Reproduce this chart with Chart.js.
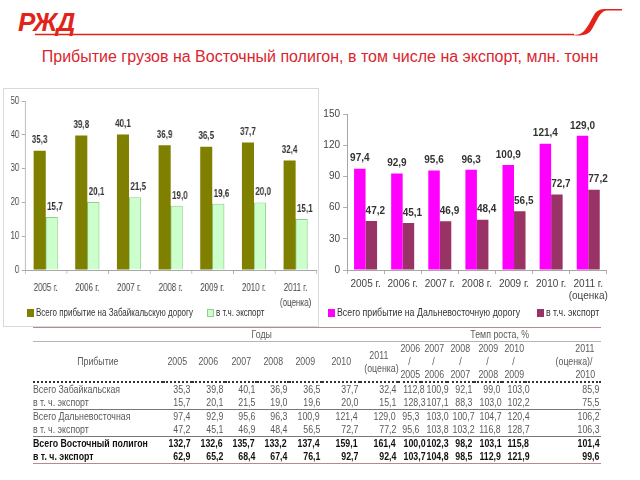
<!DOCTYPE html>
<html>
<head>
<meta charset="utf-8">
<script src="https://cdn.jsdelivr.net/npm/chart.js@4/dist/chart.umd.min.js"></script>
<style>
    body { margin: 0; width: 640px; height: 480px; background: #fff; position: relative; overflow: hidden; font-family: "Liberation Sans", Arial, sans-serif; }
    #logo { position: absolute; left: 18px; top: 7px; font: italic bold 26px "Liberation Sans", Arial, sans-serif; color: #e2231a; letter-spacing: -1px; }
    #rule { position: absolute; left: 0; top: 0; }
    #title { position: absolute; left: 0; width: 640px; top: 48px; text-align: center; font-size: 16px; color: #d9262e; }
    #box-zab { position: absolute; left: 3px; top: 88px; width: 316px; height: 239px; border: 1px solid #d9d9d9; box-sizing: border-box; }
    #box-dv { position: absolute; left: 320px; top: 85px; width: 292px; height: 242px; }
    .legend { position: absolute; top: 307px; height: 12px; font-size: 10px; color: #333; white-space: nowrap; }
    .legend .item { position: absolute; top: 0; }
    .legend i { position: absolute; left: 0; top: 2px; width: 7px; height: 8px; box-sizing: border-box; }
    .legend span { position: absolute; top: 0; line-height: 12px; display: inline-block; transform-origin: left center; }
    #tbl { position: absolute; left: 33px; top: 327px; width: 568px; border-collapse: collapse; table-layout: fixed;
           font: 11px "Liberation Sans", Arial, sans-serif; color: #5a5a5a; }
    #tbl td { padding: 0; white-space: nowrap; line-height: 13px; vertical-align: middle; overflow: visible; }
    #tbl td span { display: inline-block; transform: scaleX(0.8); }
    #tbl .num { text-align: right; padding-right: 2px; }
    #tbl .num span { transform-origin: right center; }
    #tbl .name span { transform-origin: left center; }
    #tbl .head { text-align: center; }
    #tbl tr.top td { border-top: 1px solid #b88a8a; border-bottom: 1px solid #b5b5b5; height: 12px; }
    #tbl tr.hdr td { border-bottom: 2px dotted #333; height: 39px; }
    #tbl tr.row td { height: 13px; }
    #tbl tr.under td { border-bottom: 1px solid #777; }
    #tbl tr.bold td { font-weight: bold; color: #111; }
    #tbl tr.last td { border-bottom: 1px solid #b88a8a; }
</style>
</head>
<body>
<div id="logo">РЖД</div>
<svg id="rule" width="640" height="45">
    <line x1="35" y1="34.5" x2="574" y2="34.5" stroke="#e2231a" stroke-width="1.3"/>
    <path d="M572 35 C582 35 584 32 589 24 L594 15 C597 10 600 9 607 9 L622 9 L622 10.5 L608 10.5 C603 10.5 601 13 598 18 L592 29 C589 34 585 35.5 576 35.5 Z" fill="#e2231a"/>
</svg>
<div id="title">Прибытие грузов на Восточный полигон, в том числе на экспорт, млн. тонн</div>
<div id="box-zab"><canvas id="chart-zab" width="392" height="237" style="width:314px;height:237px"></canvas></div>
<div id="box-dv"><canvas id="chart-dv" width="292" height="242" style="width:292px;height:242px"></canvas></div>
<div class="legend" id="legend-zab"></div>
<div class="legend" id="legend-dv"></div>
<table id="tbl"></table>
<script>
const years = ['2005 г.', '2006 г.', '2007 г.', '2008 г.', '2009 г.', '2010 г.', ['2011 г.', '(оценка)']];
const zabNames = ['Всего прибытие на Забайкальскую дорогу', 'в т.ч. экспорт'];
const zabTotal = [35.3, 39.8, 40.1, 36.9, 36.5, 37.7, 32.4];
const zabExport = [15.7, 20.1, 21.5, 19.0, 19.6, 20.0, 15.1];
const dvNames = ['Всего прибытие на Дальневосточную дорогу', 'в т.ч. экспорт'];
const dvTotal = [97.4, 92.9, 95.6, 96.3, 100.9, 121.4, 129.0];
const dvExport = [47.2, 45.1, 46.9, 48.4, 56.5, 72.7, 77.2];

// table
const tableYears = [['2005'], ['2006'], ['2007'], ['2008'], ['2009'], ['2010'], ['2011', '(оценка)']];
const growthHeads = [['2006', '/', '2005'], ['2007', '/', '2006'], ['2008', '/', '2007'], ['2009', '/', '2008'], ['2010', '/', '2009'], ['2011', '(оценка)/', '2010']];
const rowNames = ['Всего Забайкальская', 'в т. ч. экспорт', 'Всего Дальневосточная', 'в т. ч. экспорт', 'Всего Восточный полигон', 'в т. ч. экспорт'];
const rowValues = [
    [35.3, 39.8, 40.1, 36.9, 36.5, 37.7, 32.4],
    [15.7, 20.1, 21.5, 19.0, 19.6, 20.0, 15.1],
    [97.4, 92.9, 95.6, 96.3, 100.9, 121.4, 129.0],
    [47.2, 45.1, 46.9, 48.4, 56.5, 72.7, 77.2],
    [132.7, 132.6, 135.7, 133.2, 137.4, 159.1, 161.4],
    [62.9, 65.2, 68.4, 67.4, 76.1, 92.7, 92.4],
];
const rowGrowth = [
    [112.8, 100.9, 92.1, 99.0, 103.0, 85.9],
    [128.3, 107.1, 88.3, 103.0, 102.2, 75.5],
    [95.3, 103.0, 100.7, 104.7, 120.4, 106.2],
    [95.6, 103.8, 103.2, 116.8, 128.7, 106.3],
    [100.0, 102.3, 98.2, 103.1, 115.8, 101.4],
    [103.7, 104.8, 98.5, 112.9, 121.9, 99.6],
];
const colWidths = [130, 29, 33, 32, 32, 33, 38, 38, 23, 26, 27, 28, 23, 76];

const fmt = v => v.toFixed(1).replace('.', ',');

// draws the value above every bar
const valueLabels = {
    id: 'valueLabels',
    afterDatasetsDraw(chart, args, opts) {
        const ctx = chart.ctx;
        ctx.save();
        ctx.font = opts.font;
        ctx.fillStyle = opts.color;
        ctx.textAlign = 'center';
        ctx.textBaseline = 'middle';
        chart.data.datasets.forEach((ds, i) => {
            chart.getDatasetMeta(i).data.forEach((bar, j) => {
                ctx.fillText(fmt(ds.data[j]), bar.x + (opts.shift[i] || 0), bar.y - opts.gap);
            });
        });
        ctx.restore();
    }
};

function makeChart(id, cfg) {
    return new Chart(document.getElementById(id), {
        type: 'bar',
        data: {
            labels: years,
            datasets: cfg.names.map((name, i) => ({
                label: name, data: cfg.series[i],
                backgroundColor: cfg.colors[i], borderColor: cfg.borders[i], borderWidth: cfg.borderWidths[i],
            })),
        },
        options: {
            responsive: false,
            animation: false,
            devicePixelRatio: 1,
            categoryPercentage: cfg.catPct,
            barPercentage: 1,
            layout: { padding: cfg.padding },
            plugins: {
                legend: { display: false },
                tooltip: { enabled: false },
                valueLabels: { font: cfg.valueFont, color: '#333', gap: 10, shift: [0, 4] },
            },
            scales: {
                x: {
                    grid: { drawOnChartArea: false, tickLength: 4, color: '#b0b0b0' },
                    border: { color: '#a6a6a6' },
                    ticks: { color: '#444', font: { family: '"Liberation Sans", Arial', size: 10, lineHeight: cfg.xLine }, maxRotation: 0, autoSkip: false, padding: cfg.xPad },
                    afterFit: s => { s.height = cfg.xHeight; },
                },
                y: {
                    min: 0, max: cfg.max,
                    grid: { drawOnChartArea: false, tickLength: 4, color: '#b0b0b0' },
                    border: { color: '#a6a6a6' },
                    ticks: { stepSize: cfg.step, color: '#444', font: { family: '"Liberation Sans", Arial', size: 10 }, padding: 3 },
                    afterFit: s => { s.width = cfg.yWidth; },
                },
            },
        },
        plugins: [valueLabels],
    });
}

function makeLegend(id, cfg) {
    const el = document.getElementById(id);
    el.style.left = cfg.left + 'px';
    el.innerHTML = cfg.names.map((name, i) => `
        <div class="item" style="left:${cfg.offsets[i]}px">
            <i style="background:${cfg.colors[i]};border:1px solid ${cfg.borders[i]}"></i>
            <span style="left:${cfg.textGap}px;transform:scaleX(${cfg.squeeze});font-size:${cfg.size}px">${name}</span>
        </div>`).join('');
}

// left canvas is squeezed to 80% width by CSS, which gives the narrow lettering
const zabCfg = {
    names: zabNames,
    series: [zabTotal, zabExport],
    colors: ['#7f7f00', '#ccffcc'],
    borders: ['#7f7f00', '#8fcf8f'],
    borderWidths: [0, 1],
    catPct: 0.58,
    padding: { left: 9, right: 2, top: 12, bottom: 6 },
    valueFont: 'bold 10px "Liberation Sans", Arial',
    xHeight: 50, xPad: 7, xLine: 1.5,
    yWidth: 17,
    max: 50, step: 10,
};
makeChart('chart-zab', zabCfg);
makeLegend('legend-zab', { ...zabCfg, left: 27, offsets: [0, 180], textGap: 9, squeeze: 0.8, size: 10 });

const dvCfg = {
    names: dvNames,
    series: [dvTotal, dvExport],
    colors: ['#ff00ff', '#993366'],
    borders: ['#ff00ff', '#993366'],
    borderWidths: [0, 0],
    catPct: 0.62,
    padding: { left: 0, right: 3, top: 29, bottom: 7 },
    valueFont: 'bold 10px "Liberation Sans", Arial',
    xHeight: 50, xPad: 4, xLine: 1.2,
    yWidth: 27,
    max: 150, step: 30,
};
makeChart('chart-dv', dvCfg);
makeLegend('legend-dv', { ...dvCfg, left: 328, offsets: [0, 209], textGap: 9, squeeze: 0.88, size: 10 });

// build table
const sq = t => `<span>${t}</span>`;
const tbl = document.getElementById('tbl');
let html = '<colgroup>' + colWidths.map(w => `<col style="width:${w}px">`).join('') + '</colgroup>';
html += `<tr class="top"><td></td><td class="head" colspan="6">${sq('Годы')}</td><td></td><td class="head" colspan="6">${sq('Темп роста, %')}</td></tr>`;
html += `<tr class="hdr"><td class="head">${sq('Прибытие')}</td>`
    + tableYears.map(y => `<td class="head">${y.map(sq).join('<br>')}</td>`).join('')
    + growthHeads.map((g, i) => `<td class="head" ${i === 5 ? 'style="text-align:right;padding-right:4px"' : ''}>${g.map(sq).join('<br>')}</td>`).join('')
    + '</tr>';
rowNames.forEach((name, r) => {
    const cls = ['row', r === 1 || r === 3 ? 'under' : '', r >= 4 ? 'bold' : '', r === 5 ? 'last' : ''].join(' ');
    html += `<tr class="${cls}"><td class="name">${sq(name)}</td>`
        + rowValues[r].map(v => `<td class="num">${sq(fmt(v))}</td>`).join('')
        + rowGrowth[r].map(v => `<td class="num">${sq(fmt(v))}</td>`).join('')
        + '</tr>';
});
tbl.innerHTML = html;
</script>
</body>
</html>
